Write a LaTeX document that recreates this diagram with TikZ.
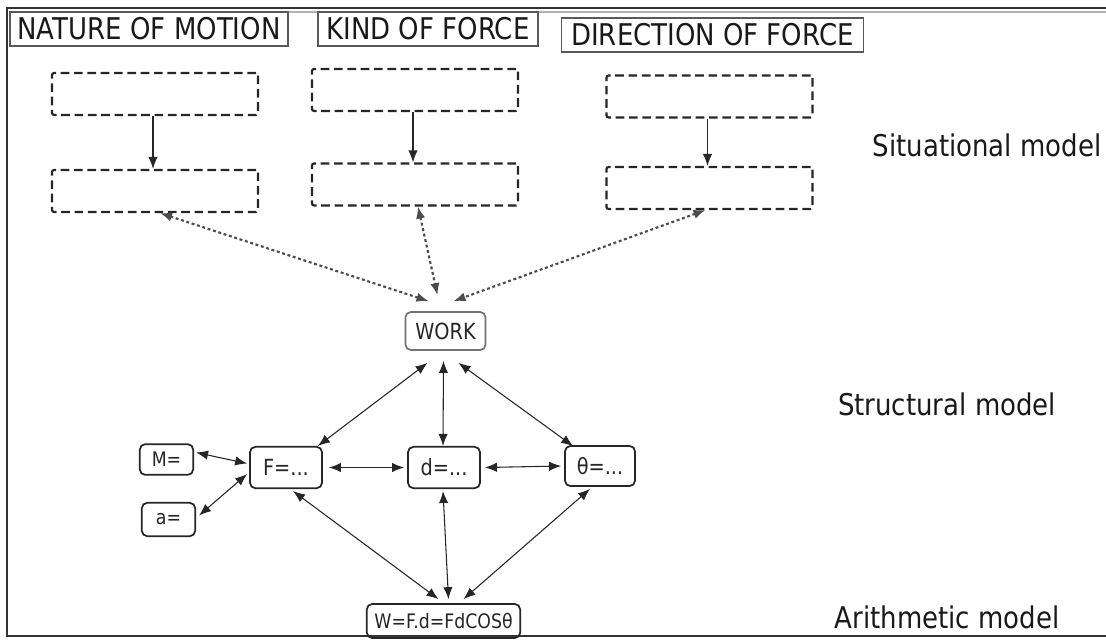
\documentclass[tikz,border=0pt]{standalone}
\usepackage{fontspec}
\usepackage{graphicx}
\setmainfont{DejaVu Sans}
\usetikzlibrary{arrows.meta,calc}
\newcommand\vstr[1]{\scalebox{1}[1.15]{#1}}
\begin{document}
\begin{tikzpicture}[x=0.75pt,y=-0.75pt,
 head/.style={draw=black!65,line width=0.9pt,inner sep=0pt,font=\fontsize{19.5}{20}\selectfont,text=black!90},
 dbox/.style={draw=black!85,line width=1.6pt,dash pattern=on 6.5pt off 3.5pt,rounded corners=1.5pt,minimum width=154.5pt,minimum height=31.5pt,inner sep=0pt},
 rbox/.style={draw=black!85,line width=1.3pt,rounded corners=4pt,font=\fontsize{14.5}{15}\selectfont,inner sep=0pt,text=black!85},
 small/.style={font=\fontsize{13}{14}\selectfont},
 arr/.style={black!85,line width=0.8pt,{Latex[length=9pt,width=7pt]}-{Latex[length=9pt,width=7pt]}},
 sarr/.style={black!85,line width=0.8pt,-{Latex[length=9pt,width=7pt]}},
 darr/.style={black!70,line width=1.6pt,dash pattern=on 2.2pt off 2pt,{Latex[length=9pt,width=7pt]}-{Latex[length=9pt,width=7pt]}},
 lab/.style={font=\fontsize{19.5}{20}\selectfont,text=black!90}]
\useasboundingbox (0,0) rectangle (1106,640);
% frame
\draw[black!30,line width=1pt] (9,12) -- (1106,12);
\draw[black!80,line width=1.5pt] (1106,8) -- (7,8) -- (7,636) -- (1106,636);
% headings
\node[head,minimum width=208.5pt,minimum height=25.5pt] (h1) at (149,29) {\vstr{NATURE OF MOTION}};
\node[head,minimum width=165pt,minimum height=25.5pt] (h2) at (428,29) {\vstr{KIND OF FORCE}};
\node[head,minimum width=227pt,minimum height=25.5pt] (h3) at (712.5,35) {\vstr{DIRECTION OF FORCE}};
% dashed boxes
\node[dbox] (c1t) at (155,94) {};
\node[dbox] (c1b) at (155,191) {};
\node[dbox] (c2t) at (415,90) {};
\node[dbox] (c2b) at (415,184.5) {};
\node[dbox] (c3t) at (709.5,96.5) {};
\node[dbox] (c3b) at (709.5,188) {};
\draw[sarr] ($(c1t.south)+(-2,0)$) -- ($(c1b.north)+(-2,0)$);
\draw[sarr] ($(c2t.south)+(-2,0)$) -- ($(c2b.north)+(-2,0)$);
\draw[sarr] ($(c3t.south)+(-2,0)$) -- ($(c3b.north)+(-2,0)$);
% labels
\node[lab] (sit) at (987,145) {\vstr{Situational model}};
\node[lab] (str) at (947,404) {\vstr{Structural model}};
\node[lab] (ari) at (947,617) {\vstr{Arithmetic model}};
% structural nodes
\node[rbox,draw=black!55,minimum width=60pt,minimum height=28.5pt] (work) at (445.5,331) {\vstr{WORK}};
\node[rbox,small,minimum width=40pt,minimum height=23pt] (M) at (166.5,459.5) {\vstr{M=}};
\node[rbox,small,minimum width=40pt,minimum height=25pt] (a) at (168.5,519.5) {\vstr{a=}};
\node[rbox,minimum width=54pt,minimum height=31pt] (F) at (286,467.5) {\vstr{F=...}};
\node[rbox,minimum width=54pt,minimum height=31pt] (d) at (444,467.5) {\vstr{d=...}};
\node[rbox,minimum width=52.5pt,minimum height=30pt] (th) at (600,466) {\vstr{θ=...}};
\node[rbox,small,minimum width=115pt,minimum height=25.5pt] (W) at (443.5,621) {\vstr{W=F.d=FdCOSθ}};
% dotted arrows
\draw[darr] ($(c1b.south)+(5,0)$) -- ($(work.north)+(-17,-10)$);
\draw[darr] ($(c2b.south)+(3,0)$) -- ($(work.north)+(-8,-16)$);
\draw[darr] ($(c3b.south)+(-4,0)$) -- ($(work.north)+(8,-10)$);
% solid arrows
\draw[arr] ($(work.south)+(-18,12)$) -- ($(F.north east)+(-5,0)$);
\draw[arr] ($(work.south)+(-2,10)$) -- ($(d.north)+(-1,0)$);
\draw[arr] ($(work.south)+(13,12)$) -- ($(th.north west)+(9,1)$);
\draw[arr] ($(M.east)+(2,-7)$) -- ($(F.west)+(-2,-4)$);
\draw[arr] ($(a.east)+(3,-4)$) -- ($(F.west)+(-2,6.5)$);
\draw[arr] ($(F.east)+(6,0)$) -- ($(d.west)+(-3,0)$);
\draw[arr] ($(d.east)+(4,0)$) -- ($(th.west)+(-3,0)$);
\draw[arr] ($(F.south)+(7,2)$) -- ($(W.north)+(-5,-4)$);
\draw[arr] ($(d.south)+(-1,2)$) -- ($(W.north)+(5,-4)$);
\draw[arr] ($(th.south)+(-10,2)$) -- ($(W.north)+(20,-4)$);
\end{tikzpicture}
\end{document}
